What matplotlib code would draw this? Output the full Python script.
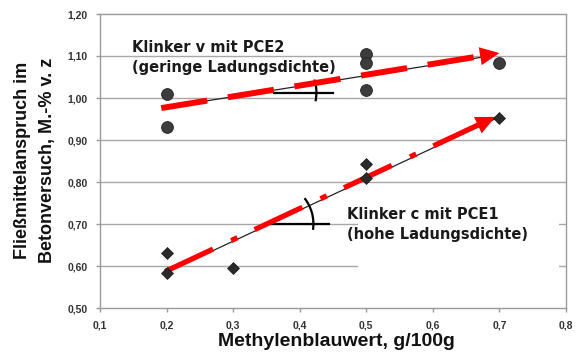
import numpy as np
import matplotlib
matplotlib.use("Agg")
import matplotlib.pyplot as plt
from matplotlib.patches import Arc, Rectangle
from matplotlib.transforms import ScaledTranslation

plt.rcParams['font.family'] = ['Liberation Sans', 'DejaVu Sans']

# ---------------- data ----------------
# Klinker v mit PCE2 (circles)
v_x = [0.2, 0.2, 0.5, 0.5, 0.5, 0.7]
v_y = [1.01, 0.93, 1.105, 1.083, 1.019, 1.083]
# Klinker c mit PCE1 (diamonds)
c_x = [0.2, 0.2, 0.3, 0.5, 0.5, 0.7]
c_y = [0.632, 0.583, 0.596, 0.844, 0.81, 0.952]

# trend lines (black, thin)
v_trend_x = [0.2, 0.685]
v_trend_y = [0.978, 1.10]
c_trend_x = [0.2, 0.7]
c_trend_y = [0.585, 0.955]

# red arrows: start and tip
v_arrow_start = (0.192, 0.976)
v_arrow_tip = (0.700, 1.107)
c_arrow_start = (0.198, 0.587)
c_arrow_tip = (0.694, 0.955)

# angle markers: horizontal reference (y, x0, x1)
v_angle = (1.013, 0.362, 0.45)
c_angle = (0.70, 0.3575, 0.444)

# annotation anchors (left, vertical centre)
v_text_pos = (0.148, 1.097)
c_text_pos = (0.471, 0.698)

x_ticks = [0.1, 0.2, 0.3, 0.4, 0.5, 0.6, 0.7, 0.8]
y_ticks = [0.5, 0.6, 0.7, 0.8, 0.9, 1.0, 1.1, 1.2]

x_label = "Methylenblauwert, g/100g"
y_label = "Fließmittelanspruch im\nBetonversuch, M.-% v. z"
v_text = "Klinker v mit PCE2\n(geringe Ladungsdichte)"
c_text = "Klinker c mit PCE1\n(hohe Ladungsdichte)"

# ---------------- figure ----------------
fig = plt.figure(figsize=(5.78, 3.56), dpi=100)
ax = fig.add_axes([100/578, 1-308/356, 466/578, 294/356])
ax.set_xlim(0.1, 0.8)
ax.set_ylim(0.5, 1.2)

grid_c = '#a8a8a8'
for yv in y_ticks[1:-1]:
    ax.axhline(yv, color=grid_c, lw=1.0, zorder=0.5)
for s in ax.spines.values():
    s.set_color('#9a9a9a')
    s.set_linewidth(1.0)

ax.set_xticks(x_ticks)
ax.set_yticks(y_ticks)
ax.set_xticklabels([f"{t:.1f}".replace('.', ',') for t in x_ticks])
ax.set_yticklabels([f"{t:.2f}".replace('.', ',') for t in y_ticks])
ax.tick_params(axis='both', direction='out', length=3, width=1, color='#9a9a9a',
               labelsize=7.5, labelcolor='#333333')
ax.tick_params(axis='y', pad=6)
ax.tick_params(axis='x', pad=6)
for lab in ax.get_xticklabels() + ax.get_yticklabels():
    lab.set_fontweight('bold')

# white box behind lower text (hides gridlines)
ax.add_patch(Rectangle((0.487, 0.55), 0.303, 0.22, facecolor='white',
                       edgecolor='none', zorder=1))

# trend lines
ax.plot(v_trend_x, v_trend_y, color='#222222', lw=0.9, zorder=2)
ax.plot(c_trend_x, c_trend_y, color='#222222', lw=0.9, zorder=2)

# markers
ax.plot(v_x, v_y, 'o', ms=8.5, color='#3c3c3c', mec='#222222', mew=0.6, zorder=5)
ax.plot(c_x, c_y, 'D', ms=6.5, color='#2a2a2a', mec='#1a1a1a', mew=0.5, zorder=5)


def red_arrow(start, tip, lw, dashes, head_len, head_w):
    frac = 0.965
    end = (start[0] + frac*(tip[0]-start[0]), start[1] + frac*(tip[1]-start[1]))
    ax.plot([start[0], end[0]], [start[1], end[1]], color='#ff0000', lw=lw,
            linestyle=(0, dashes), solid_capstyle='butt', dash_capstyle='butt', zorder=4)
    base = (start[0] + 0.93*(tip[0]-start[0]), start[1] + 0.93*(tip[1]-start[1]))
    ax.annotate('', xy=tip, xytext=base,
                arrowprops=dict(arrowstyle=f'-|>,head_length={head_len},head_width={head_w}',
                                color='#ff0000', lw=0, mutation_scale=1,
                                shrinkA=0, shrinkB=0), zorder=4)


red_arrow(v_arrow_start, v_arrow_tip, 4.3, (7.8, 3.5), 14, 6.5)
red_arrow(c_arrow_start, c_arrow_tip, 3.8, (10, 3.8, 1.3, 3.6), 14, 6.5)

# angle markers
for (yh, x0, x1), theta in ((v_angle, (-12, 18)), (c_angle, (-8, 38))):
    ax.plot([x0, x1], [yh, yh], color='black', lw=1.6, zorder=3)
    r = 0.42  # inches
    tr = fig.dpi_scale_trans + ScaledTranslation(x0, yh, ax.transData)
    ax.add_patch(Arc((0, 0), 2*r, 2*r, theta1=theta[0], theta2=theta[1],
                     transform=tr, color='black', lw=1.6, zorder=3))

# annotations
ann_font = ['DejaVu Sans']
ax.text(*v_text_pos, v_text, fontsize=10.5, fontweight='bold', family=ann_font,
        color='#1a1a1a', ha='left', va='center', linespacing=1.4, zorder=6)
ax.text(*c_text_pos, c_text, fontsize=10.5, fontweight='bold', family=ann_font,
        color='#1a1a1a', ha='left', va='center', linespacing=1.4, zorder=6)

# axis labels
fig.text(336/578, 1-342/356, x_label, fontsize=14, fontweight='bold',
         color='#111111', ha='center', va='center')
fig.text(35/578, 1-160/356, y_label, fontsize=13, fontweight='bold', rotation=90,
         color='#111111', ha='center', va='center', multialignment='center',
         linespacing=1.55)

fig.savefig('out.png', dpi=100, facecolor='white')
